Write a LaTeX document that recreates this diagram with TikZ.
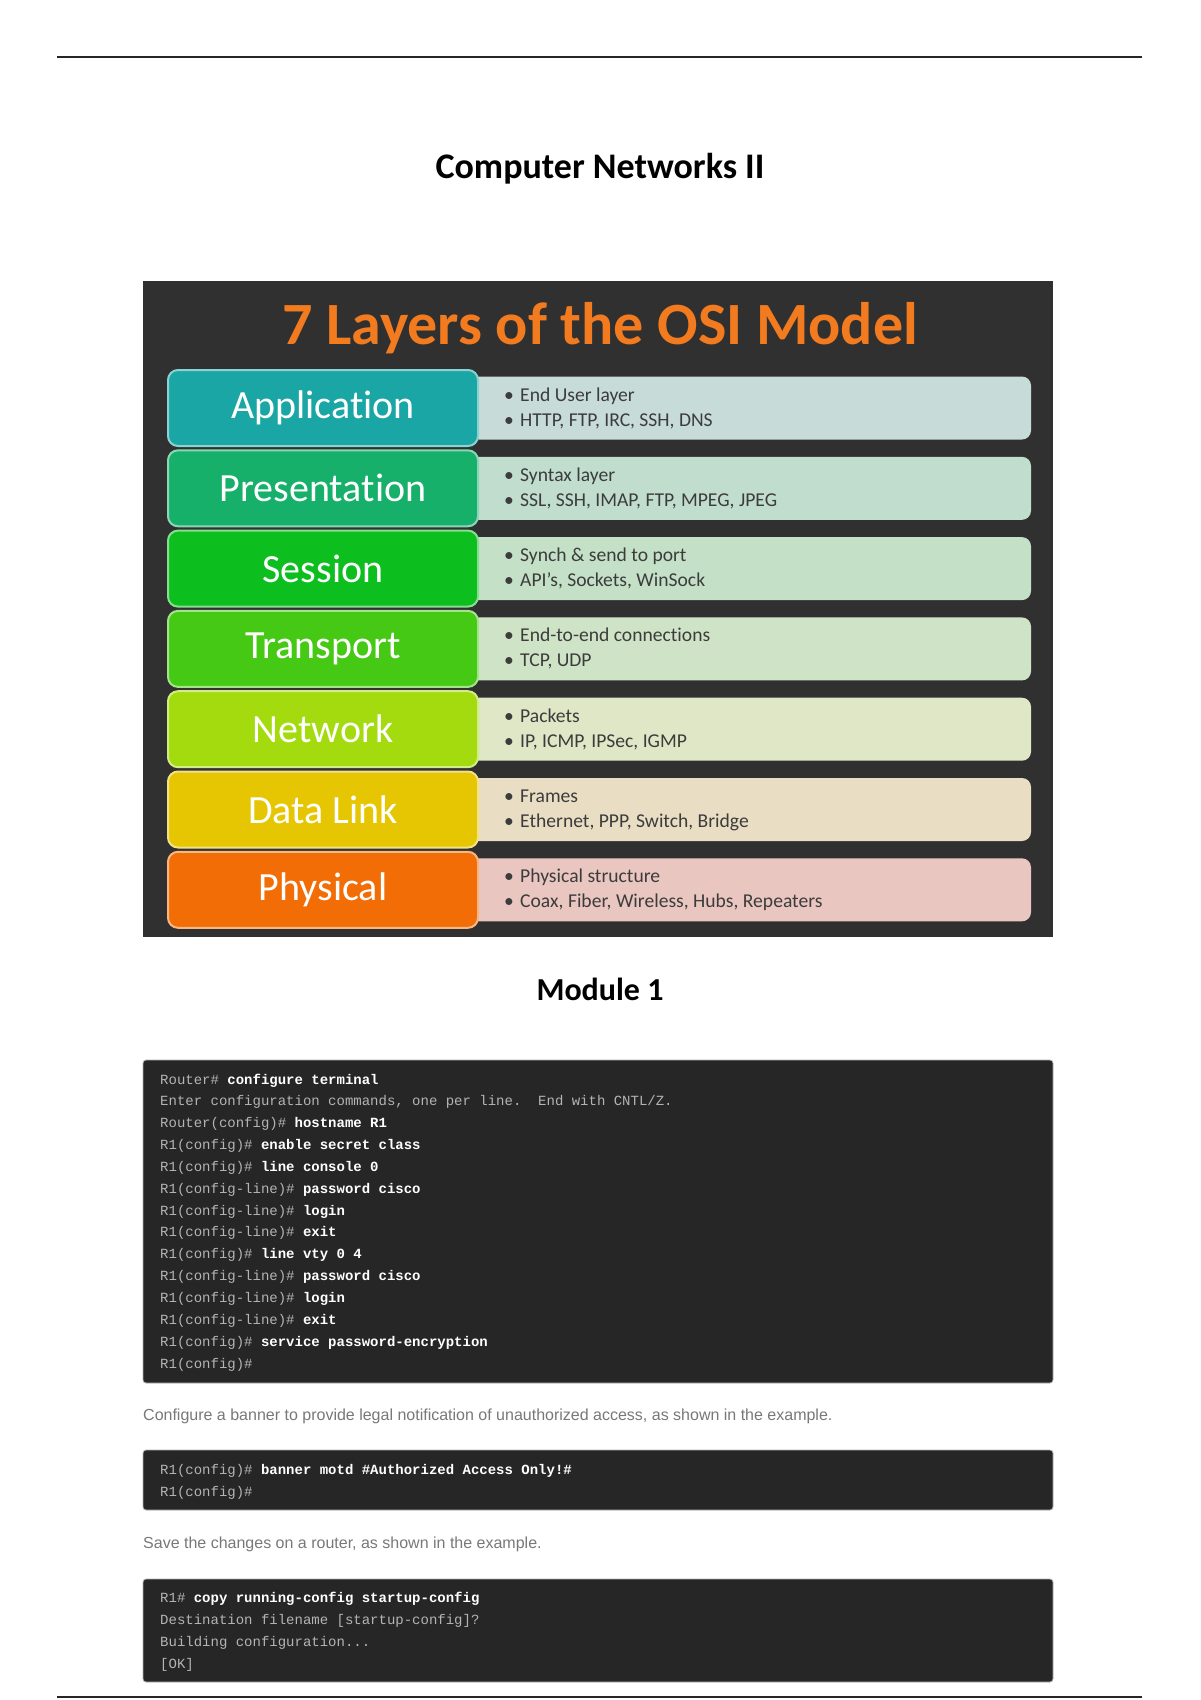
\documentclass[tikz,border=0pt]{standalone}
\usepackage{fontspec}
\setmainfont{Carlito}[Ligatures=NoCommon]
\newfontfamily\monof{Liberation Mono}
\newfontfamily\arialf{Liberation Sans}
\definecolor{osibg}{HTML}{303030}
\definecolor{osititle}{HTML}{F27A1F}
\definecolor{cApp}{HTML}{1AA6A4}
\definecolor{cPre}{HTML}{17B06A}
\definecolor{cSes}{HTML}{0DBE1F}
\definecolor{cTra}{HTML}{45C914}
\definecolor{cNet}{HTML}{A3DB0E}
\definecolor{cDat}{HTML}{E6C603}
\definecolor{cPhy}{HTML}{F26D05}
\definecolor{iApp}{HTML}{C7DBD9}
\definecolor{iPre}{HTML}{C0DDCE}
\definecolor{iSes}{HTML}{C4E1C7}
\definecolor{iTra}{HTML}{CFE4C6}
\definecolor{iNet}{HTML}{DFE7C6}
\definecolor{iDat}{HTML}{E9DDC4}
\definecolor{iPhy}{HTML}{EAC6C0}
\definecolor{termbg}{HTML}{262626}
\definecolor{promptc}{HTML}{B4B4B4}
\definecolor{bodyc}{HTML}{787878}
\definecolor{infotext}{HTML}{3C3C3C}
\newcommand\osilayer[7]{%
  \node[infobox, fill=#5] (#2-info) at (750.5,#1) {};
  \node[layerbox, fill=#4, draw=#4!50!white] (#2) at (323,#1) {#3};
  \node[bulletline] (#2-a) at (504,#1-7) {\makebox[16pt][l]{\textbullet}#6};
  \node[bulletline] (#2-b) at (504,#1+18) {\makebox[16pt][l]{\textbullet}#7};
}
\newcommand\tline[4]{%
  \node[termline] (#1) at (160,#2) {{\color{promptc}#3}\textbf{#4}};
}
\begin{document}
\begin{tikzpicture}[x=1pt,y=-1pt,
  layerbox/.style={rounded corners=10pt, line width=2pt, minimum width=310pt, minimum height=76pt,
    inner sep=0pt, text=white!92!#1, font=\fontsize{40}{42}\selectfont},
  infobox/.style={rounded corners=9pt, minimum width=561pt, minimum height=63pt, inner sep=0pt},
  bulletline/.style={anchor=base west, inner sep=0pt, text=infotext, font=\fontsize{19.6}{21}\selectfont},
  termbox/.style={fill=termbg, draw=black!30, line width=0.8pt, rounded corners=3pt, inner sep=0pt},
  termline/.style={anchor=base west, inner sep=0pt, text=white, font=\monof\fontsize{14}{16}\selectfont},
  bodytext/.style={anchor=base west, inner sep=0pt, text=bodyc, font=\arialf\fontsize{16}{18}\selectfont},
  heading/.style={inner sep=0pt, font=\bfseries\fontsize{36}{40}\selectfont},
  rulestyle/.style={line width=2.5pt, draw=black!85}]
\useasboundingbox[fill=white] (0,0) rectangle (1200,1700);
% page rules
\coordinate (r1a) at (57,57); \coordinate (r1b) at (1142,57);
\draw[rulestyle] (r1a) -- (r1b);
\coordinate (r2a) at (57,1697); \coordinate (r2b) at (1142,1697);
\draw[rulestyle] (r2a) -- (r2b);
% title
\node[heading] (title) at (600,169) {Computer Networks II};
% OSI picture
\node[fill=osibg, minimum width=910pt, minimum height=656pt, inner sep=0pt] (osi) at (598,609) {};
\node[inner sep=0pt, text=osititle, font=\bfseries\fontsize{60}{62}\selectfont] (osititle) at (600,328) {7 Layers of the OSI Model};
\osilayer{408}{app}{Application}{cApp}{iApp}{End User layer}{HTTP, FTP, IRC, SSH, DNS}
\osilayer{488.3}{pre}{Presentation}{cPre}{iPre}{Syntax layer}{SSL, SSH, IMAP, FTP, MPEG, JPEG}
\osilayer{568.6}{ses}{Session}{cSes}{iSes}{Synch \& send to port}{API’s, Sockets, WinSock}
\osilayer{648.9}{tra}{Transport}{cTra}{iTra}{End-to-end connections}{TCP, UDP}
\osilayer{729.2}{net}{Network}{cNet}{iNet}{Packets}{IP, ICMP, IPSec, IGMP}
\osilayer{809.5}{dat}{Data Link}{cDat}{iDat}{Frames}{Ethernet, PPP, Switch, Bridge}
\osilayer{889.8}{phy}{Physical}{cPhy}{iPhy}{Physical structure}{Coax, Fiber, Wireless, Hubs, Repeaters}
% Module 1
\node[heading, font=\bfseries\fontsize{32}{36}\selectfont] (module) at (600,989) {Module 1};
% terminal 1
\node[termbox, minimum width=910pt, minimum height=323pt] (term1) at (598,1221.5) {};
\tline{t1}{1084}{Router\# }{configure terminal}
\tline{t2}{1105.85}{Enter configuration commands, one per line.\ \ End with CNTL/Z.}{}
\tline{t3}{1127.7}{Router(config)\# }{hostname R1}
\tline{t4}{1149.55}{R1(config)\# }{enable secret class}
\tline{t5}{1171.4}{R1(config)\# }{line console 0}
\tline{t6}{1193.25}{R1(config-line)\# }{password cisco}
\tline{t7}{1215.1}{R1(config-line)\# }{login}
\tline{t8}{1236.95}{R1(config-line)\# }{exit}
\tline{t9}{1258.8}{R1(config)\# }{line vty 0 4}
\tline{t10}{1280.65}{R1(config-line)\# }{password cisco}
\tline{t11}{1302.5}{R1(config-line)\# }{login}
\tline{t12}{1324.35}{R1(config-line)\# }{exit}
\tline{t13}{1346.2}{R1(config)\# }{service password-encryption}
\tline{t14}{1368.05}{R1(config)\#}{}
% text 1
\node[bodytext] (body1) at (143,1420) {Configure a banner to provide legal notification of unauthorized access, as shown in the example.};
% terminal 2
\node[termbox, minimum width=910pt, minimum height=60pt] (term2) at (598,1480) {};
\tline{u1}{1474}{R1(config)\# }{banner motd \#Authorized Access Only!\#}
\tline{u2}{1496}{R1(config)\#}{}
% text 2
\node[bodytext] (body2) at (143,1548) {Save the changes on a router, as shown in the example.};
% terminal 3
\node[termbox, minimum width=910pt, minimum height=103pt] (term3) at (598,1630.5) {};
\tline{v1}{1602}{R1\# }{copy running-config startup-config}
\tline{v2}{1624}{Destination filename [startup-config]?}{}
\tline{v3}{1646}{Building configuration...}{}
\tline{v4}{1668}{[OK]}{}
\end{tikzpicture}
\end{document}
